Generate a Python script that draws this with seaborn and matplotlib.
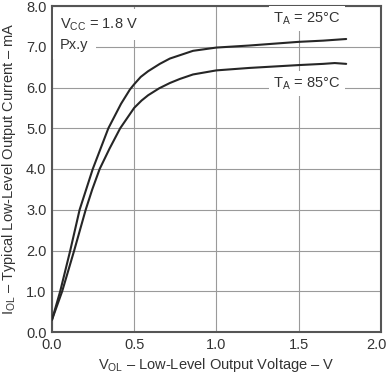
import matplotlib
matplotlib.use("Agg")
import matplotlib.pyplot as plt
import matplotlib.transforms as mtransforms
import seaborn as sns
import pandas as pd

# Data
x25 = [0.0, 0.05, 0.111, 0.168, 0.248, 0.343, 0.42, 0.474, 0.5, 0.54, 0.585, 0.656, 0.717, 0.858, 1.0, 1.2, 1.5, 1.65, 1.79]
y25 = [0.3, 1.0, 2.0, 3.0, 4.0, 5.0, 5.6, 5.95, 6.08, 6.26, 6.4, 6.58, 6.71, 6.9, 6.98, 7.03, 7.12, 7.15, 7.19]
x85 = [0.0, 0.062, 0.135, 0.205, 0.245, 0.29, 0.35, 0.415, 0.5, 0.545, 0.585, 0.652, 0.717, 0.778, 0.858, 1.0, 1.2, 1.5, 1.65, 1.72, 1.79]
y85 = [0.3, 1.0, 2.0, 3.0, 3.5, 4.0, 4.5, 5.0, 5.5, 5.68, 5.81, 5.98, 6.11, 6.21, 6.32, 6.42, 6.48, 6.55, 6.58, 6.6, 6.58]
xticks = [0.0, 0.5, 1.0, 1.5, 2.0]
yticks = [0.0, 1.0, 2.0, 3.0, 4.0, 5.0, 6.0, 7.0, 8.0]

df = pd.concat([
    pd.DataFrame({"x": x25, "y": y25, "T": "25"}),
    pd.DataFrame({"x": x85, "y": y85, "T": "85"}),
])

sns.set_style("white")
plt.rcParams["font.family"] = ["Liberation Sans", "DejaVu Sans"]
plt.rcParams["mathtext.fontset"] = "custom"
plt.rcParams["mathtext.rm"] = "Liberation Sans"

fig = plt.figure(figsize=(3.89, 3.76), dpi=100)
ax = fig.add_axes([52/389, 1-332/376, (380.7-52)/389, (332-6)/376])

sns.lineplot(data=df, x="x", y="y", hue="T", palette=["#262626", "#262626"],
             sort=False, estimator=None, linewidth=1.5, legend=False, ax=ax, zorder=3)

ax.set_xlim(0, 2.0)
ax.set_ylim(0, 8.0)
ax.set_xticks(xticks)
ax.set_yticks(yticks)
ax.set_xticklabels([f"{v:.1f}" for v in xticks], fontsize=10.5, color="#333333")
ax.set_yticklabels([f"{v:.1f}" for v in yticks], fontsize=10.5, color="#333333")
ax.tick_params(length=0, pad=4)
last = ax.get_xticklabels()[-1]
last.set_transform(last.get_transform() + mtransforms.ScaledTranslation(-4/100, 0, fig.dpi_scale_trans))
ax.grid(True, color="#9a9a9a", linewidth=0.8, zorder=0)
ax.set_axisbelow(True)
for s in ax.spines.values():
    s.set_color("#555555")
    s.set_linewidth(1.5)

ax.set_xlabel(r"V$_{\mathregular{OL}}$ – Low-Level Output Voltage – V", fontsize=10.5, color="#333333", labelpad=3)
ax.set_ylabel(r"I$_{\mathregular{OL}}$ – Typical Low-Level Output Current – mA", fontsize=10.5, color="#333333", labelpad=6)

box = dict(facecolor="white", edgecolor="none", pad=3)
ax.text(0.05, 7.55, r"V$_{\mathregular{CC}}$ = 1.8 V", fontsize=10.5, color="#333333", va="center", ha="left", bbox=dict(facecolor="white", edgecolor="none", pad=5), zorder=4)
ax.text(0.05, 7.05, "Px.y", fontsize=10.5, color="#333333", va="center", ha="left", bbox=dict(facecolor="white", edgecolor="none", pad=5), zorder=4)
ax.text(1.55, 7.7, r"T$_{\mathregular{A}}$ = 25°C", fontsize=10.5, color="#333333", va="center", ha="center", bbox=box, zorder=4)
ax.text(1.55, 6.1, r"T$_{\mathregular{A}}$ = 85°C", fontsize=10.5, color="#333333", va="center", ha="center", bbox=box, zorder=4)

fig.savefig("out.png", dpi=100)
